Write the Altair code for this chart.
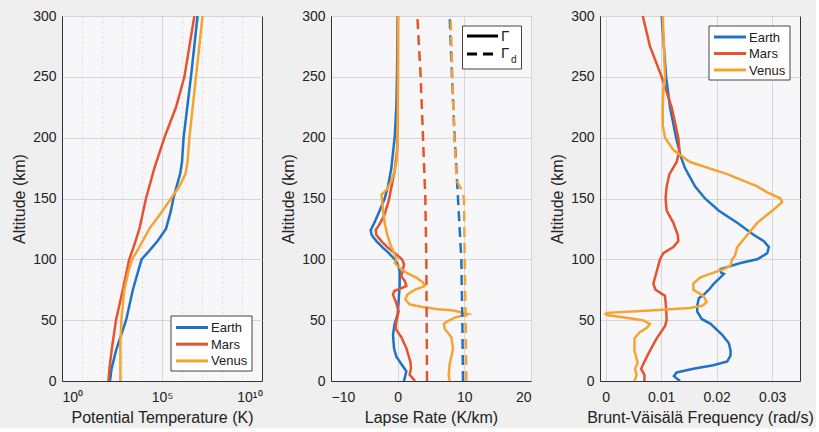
import altair as alt
import pandas as pd

PLANETS = ["Earth", "Mars", "Venus"]
COLORS = ["#1f72c6", "#e6532e", "#f5a431"]

# ---------- Panel 1: potential temperature (K) ----------
earth_theta_alt = [0, 10, 25, 50, 75, 100, 107, 115, 125, 140, 150, 160, 170, 180, 200, 250, 300]
earth_theta = [250, 300, 500, 1600, 3500, 9500, 23000, 60000, 158000, 280000, 370000,
               540000, 800000, 1000000, 1200000, 2800000, 6000000]
mars_theta_alt = [0, 10, 25, 50, 75, 100, 110, 125, 150, 175, 200, 225, 250, 275, 300]
mars_theta = [209, 234, 302, 500, 1100, 2300, 3800, 7400, 15800, 41700, 132000,
              500000, 1320000, 2340000, 4170000]
venus_theta_alt = [0, 30, 50, 75, 90, 100, 110, 125, 140, 150, 160, 170, 180, 200, 250, 300]
venus_theta = [830, 830, 930, 1300, 2100, 3200, 7400, 23000, 107000, 282000, 740000,
               1480000, 1900000, 2340000, 5000000, 10700000]

# ---------- Panel 2: lapse rate (K/km) ----------
earth_gamma_alt = [0, 8, 14, 20, 27, 38, 47, 55, 66, 79, 90, 96, 100, 105, 110, 115, 120, 124,
                   130, 140, 150, 160, 175, 200, 225, 250, 300]
earth_gamma = [0.95, 1.3, 0.55, -0.2, -0.55, -0.7, -0.45, 0.0, 0.15, 0.3, 0.3, 0.0, -0.45,
               -1.3, -2.3, -3.2, -3.9, -4.05, -3.5, -2.7, -1.95, -1.45, -0.95, -0.45, -0.2,
               -0.1, 0.0]
mars_gamma_alt = [0, 2, 5, 11, 16, 27, 36, 43, 49, 57, 64, 71, 74, 78, 82, 86, 92, 96, 100,
                  104, 110, 115, 120, 124, 129, 137, 148, 159, 173, 189, 203, 300]
mars_gamma = [2.6, 2.3, 1.8, 2.0, 1.9, 1.3, 0.55, -0.3, -0.2, 0.15, -0.2, -0.7, -0.5, 1.3,
              1.1, 0.55, 0.8, 0.95, 0.65, -0.2, -1.55, -2.45, -3.2, -3.3, -2.7, -1.95,
              -1.35, -0.95, -0.45, -0.1, 0.0, 0.05]
venus_gamma_alt = [0, 5, 14, 22, 27, 36, 43, 47, 49, 52, 55, 58, 59, 61, 63, 67, 71, 75, 78,
                   81, 85, 89, 93, 97, 100, 105, 110, 120, 130, 140, 150, 153, 157, 164, 173,
                   181, 190, 200, 250, 300]
venus_gamma = [7.8, 7.65, 7.8, 8.15, 8.3, 8.05, 7.05, 6.95, 7.45, 8.55, 10.55, 8.3, 6.0,
               3.55, 1.8, 1.15, 1.45, 2.55, 4.05, 3.8, 2.8, 1.3, 0.3, -0.45, -0.2, -0.5,
               -0.95, -1.55, -1.95, -2.2, -2.35, -2.45, -1.7, -0.95, -0.45, -0.15, -0.05,
               0.0, 0.05, 0.05]

earth_gd_alt = [0, 50, 100, 150, 200, 250, 300]
earth_gd = [9.8, 9.7, 9.55, 9.05, 8.55, 8.15, 7.8]
mars_gd_alt = [0, 100, 150, 200, 250, 300]
mars_gd = [4.4, 4.3, 4.15, 3.8, 3.45, 2.95]
venus_gd_alt = [0, 50, 100, 150, 157, 163, 170, 200, 250, 300]
venus_gd = [10.3, 10.2, 10.05, 9.95, 9.6, 9.0, 8.8, 8.5, 8.2, 7.95]

# ---------- Panel 3: Brunt-Vaisala frequency (rad/s) ----------
earth_n_alt = [0, 4, 7, 10, 13, 16, 21, 25, 31, 38, 47, 51, 57, 62, 68, 71, 75, 80, 84, 88,
               89, 92, 97, 100, 105, 110, 115, 120, 130, 140, 150, 160, 175, 185, 200, 225,
               250, 300]
earth_n = [0.0134, 0.0123, 0.0128, 0.0158, 0.0194, 0.0219, 0.0225, 0.0225, 0.0222, 0.0210,
           0.0189, 0.0173, 0.0165, 0.0165, 0.0168, 0.0177, 0.0186, 0.0195, 0.0204, 0.0213,
           0.0208, 0.0207, 0.0243, 0.0273, 0.0291, 0.0294, 0.0285, 0.0267, 0.0237, 0.0204,
           0.0179, 0.0161, 0.0143, 0.0135, 0.0127, 0.0116, 0.0109, 0.0101]
mars_n_alt = [0, 5, 10, 15, 25, 35, 45, 50, 60, 70, 75, 80, 90, 100, 105, 110, 115, 120, 130,
              140, 150, 160, 170, 180, 190, 200, 225, 250, 275, 300]
mars_n = [0.0070, 0.0070, 0.0064, 0.0069, 0.0080, 0.0092, 0.0107, 0.0110, 0.0109, 0.0107,
          0.0090, 0.0086, 0.0092, 0.0098, 0.0104, 0.0122, 0.0131, 0.0130, 0.0122, 0.0110,
          0.0108, 0.0110, 0.0115, 0.0128, 0.0133, 0.0131, 0.0119, 0.0101, 0.0080, 0.0067]
venus_n_alt = [0, 5, 10, 15, 18, 25, 35, 40, 44, 47, 50, 52, 54, 55, 56, 58, 60, 62, 65, 70,
               75, 80, 85, 88, 92, 95, 100, 103, 110, 120, 130, 140, 147, 150, 155, 160, 170,
               180, 190, 200, 210, 225, 240, 250, 275, 300]
venus_n = [0.0052, 0.0056, 0.0053, 0.0058, 0.0056, 0.0052, 0.0052, 0.0061, 0.0075, 0.0080,
           0.0067, 0.0037, 0.0005, 0.0000, 0.0002, 0.0080, 0.0152, 0.0175, 0.0182, 0.0176,
           0.0158, 0.0158, 0.0170, 0.0188, 0.0213, 0.0225, 0.0228, 0.0233, 0.0237, 0.0255,
           0.0273, 0.0300, 0.0318, 0.0315, 0.0291, 0.0273, 0.0219, 0.0152, 0.0122, 0.0107,
           0.0103, 0.0103, 0.0104, 0.0107, 0.0105, 0.0103]


def frame(planet, alts, vals, kind="Γ"):
    return pd.DataFrame({"planet": planet, "alt": alts, "val": vals, "kind": kind})


theta_df = pd.concat([frame("Earth", earth_theta_alt, earth_theta),
                      frame("Mars", mars_theta_alt, mars_theta),
                      frame("Venus", venus_theta_alt, venus_theta)])
lapse_df = pd.concat([frame("Earth", earth_gamma_alt, earth_gamma),
                      frame("Mars", mars_gamma_alt, mars_gamma),
                      frame("Venus", venus_gamma_alt, venus_gamma),
                      frame("Earth", earth_gd_alt, earth_gd, "Γd"),
                      frame("Mars", mars_gd_alt, mars_gd, "Γd"),
                      frame("Venus", venus_gd_alt, venus_gd, "Γd")])
bv_df = pd.concat([frame("Earth", earth_n_alt, earth_n),
                   frame("Mars", mars_n_alt, mars_n),
                   frame("Venus", venus_n_alt, venus_n)])

FONT = "Liberation Sans"
W, H = 200, 365
DASH = [10, 6]
color_scale = alt.Scale(domain=PLANETS, range=COLORS)
one = pd.DataFrame({"k": [0]})

y_enc = alt.Y("alt:Q", scale=alt.Scale(domain=[0, 300], nice=False),
              axis=alt.Axis(values=[0, 50, 100, 150, 200, 250, 300], title="Altitude (km)"))


def planet_legend(x0, y0, w, h, row0, step):
    """Boxed legend drawn inside a panel (pixel layout only)."""
    layers = [alt.Chart(one).mark_rect(fill="white", stroke="#444", strokeWidth=1).encode(
        x=alt.value(x0), x2=alt.value(x0 + w), y=alt.value(y0), y2=alt.value(y0 + h))]
    for i, (name, col) in enumerate(zip(PLANETS, COLORS)):
        yy = row0 + i * step
        layers.append(alt.Chart(one).mark_rule(color=col, strokeWidth=3).encode(
            x=alt.value(x0 + 5), x2=alt.value(x0 + 37), y=alt.value(yy)))
        layers.append(alt.Chart(one).mark_text(text=name, align="left", baseline="middle",
                                               fontSize=13, font=FONT, color="#222").encode(
            x=alt.value(x0 + 40), y=alt.value(yy + 0.5)))
    return layers


decades = [10 ** i for i in range(11)]
left_lines = alt.Chart(theta_df).mark_line(strokeWidth=2.5).encode(
    x=alt.X("val:Q",
            scale=alt.Scale(type="log", domain=[1, 1e10], nice=False),
            axis=alt.Axis(values=decades, title="Potential Temperature (K)", labelOverlap=False,
                          gridDash={"condition": {"test": "datum.value == 100000", "value": []},
                                    "value": [2, 3]},
                          gridOpacity={"condition": {"test": "datum.value <= 1 || datum.value >= 10000000000",
                                                     "value": 0}, "value": 1},
                          labelExpr="datum.value == 1 ? '10⁰' : datum.value == 100000 ? '10⁵' : datum.value == 10000000000 ? '10¹⁰' : ''")),
    y=y_enc,
    color=alt.Color("planet:N", scale=color_scale, legend=None),
    order="alt:Q",
)
left = alt.layer(left_lines, *planet_legend(109, 300, 81, 55, 311.5, 16.7)).properties(
    width=W, height=H)

mid_lines = alt.Chart(lapse_df).mark_line(strokeWidth=2.5).encode(
    x=alt.X("val:Q", scale=alt.Scale(domain=[-10, 20], nice=False),
            axis=alt.Axis(values=[-10, 0, 10, 20], title="Lapse Rate (K/km)")),
    y=y_enc,
    color=alt.Color("planet:N", scale=color_scale, legend=None),
    strokeDash=alt.StrokeDash("kind:N", scale=alt.Scale(domain=["Γ", "Γd"], range=[[1, 0], DASH]),
                              legend=None),
    order="alt:Q",
)

leg_box = alt.Chart(one).mark_rect(fill="white", stroke="#444", strokeWidth=1).encode(
    x=alt.value(131.5), x2=alt.value(190.5), y=alt.value(10), y2=alt.value(53))
leg_solid = alt.Chart(one).mark_rule(color="black", strokeWidth=3).encode(
    x=alt.value(136), x2=alt.value(167), y=alt.value(20))
leg_dash = alt.Chart(one).mark_rule(color="black", strokeWidth=3, strokeDash=DASH).encode(
    x=alt.value(136), x2=alt.value(167), y=alt.value(38))
leg_t1 = alt.Chart(one).mark_text(text="Γ", align="left", baseline="middle", fontSize=15,
                                  font=FONT, color="#222").encode(x=alt.value(170), y=alt.value(20))
leg_t2 = alt.Chart(one).mark_text(text="Γ", align="left", baseline="middle", fontSize=15,
                                  font=FONT, color="#222").encode(x=alt.value(170), y=alt.value(37))
leg_t3 = alt.Chart(one).mark_text(text="d", align="left", baseline="middle", fontSize=10,
                                  font=FONT, color="#222").encode(x=alt.value(180), y=alt.value(44))

middle = alt.layer(mid_lines, leg_box, leg_solid, leg_dash, leg_t1, leg_t2, leg_t3).properties(
    width=W, height=H)

right_lines = alt.Chart(bv_df).mark_line(strokeWidth=2.5).encode(
    x=alt.X("val:Q", scale=alt.Scale(domain=[-0.001, 0.035], nice=False, zero=False),
            axis=alt.Axis(values=[0, 0.01, 0.02, 0.03], format="~g",
                          title="Brunt-Väisälä Frequency (rad/s)")),
    y=y_enc,
    color=alt.Color("planet:N", scale=color_scale, legend=None),
    order="alt:Q",
)
right = alt.layer(right_lines, *planet_legend(109, 10, 81, 54, 21, 16.5)).properties(
    width=W, height=H)

chart = alt.hconcat(left, middle, right, spacing=69, bounds="flush").properties(
    padding={"left": 11, "top": 8, "right": 2, "bottom": 2},
    background="#efefef",
).configure_view(
    stroke="#333", strokeWidth=1, fill="#f7f7f9"
).configure_axis(
    labelFont=FONT, titleFont=FONT, labelFontSize=14, titleFontSize=16,
    titleFontWeight="normal", labelColor="#222", titleColor="#222",
    domainColor="#333", gridColor="#d6d6d6", ticks=False,
    labelPadding=6, titlePadding=5,
).configure_axisX(labelPadding=9, titlePadding=5)

chart.save("out.html", embed_options={"renderer": "svg", "actions": False})
